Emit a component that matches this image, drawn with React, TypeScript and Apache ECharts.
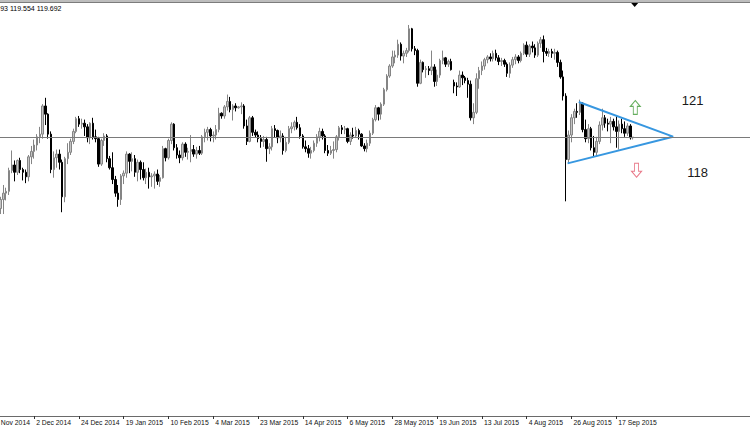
import React, { useEffect, useRef } from "react";
import * as echarts from "echarts";

// ---- Daily bars (USDJPY, 10 Nov 2014 .. 25 Sep 2015) ----
const opens = [
  114.55,114.85,115.75,115.50,115.75,116.25,116.60,116.70,117.85,118.15,
  117.75,118.40,117.90,117.75,117.50,118.60,118.90,119.25,119.70,119.85,
  121.40,120.95,119.85,117.90,118.55,118.75,118.30,116.40,118.50,118.85,
  119.45,120.00,120.70,120.40,120.45,120.25,119.65,120.45,119.70,119.60,
  118.20,119.50,119.75,118.50,118.00,117.35,116.60,116.25,117.55,117.70,
  118.75,118.35,118.50,117.75,118.30,117.90,117.45,117.75,117.50,117.55,
  117.65,117.25,117.45,119.05,118.55,119.50,120.40,119.10,118.70,118.55,
  119.30,118.85,118.90,119.00,118.75,118.95,118.80,119.70,119.95,120.10,
  119.75,119.80,120.10,121.00,120.85,121.35,121.65,121.20,121.40,121.30,
  121.35,121.40,120.30,119.45,120.75,119.95,119.80,119.60,119.45,119.55,
  119.05,119.15,120.15,120.05,119.65,119.75,118.95,119.40,120.15,120.25,
  120.50,120.20,119.75,119.15,119.05,118.80,118.95,119.35,119.70,120.00,
  119.75,118.95,118.80,118.95,119.00,119.70,120.20,120.10,120.15,119.45,
  119.80,119.75,120.05,119.85,119.20,119.05,119.35,119.90,120.65,121.30,
  120.95,121.50,122.30,123.05,123.60,124.10,124.20,124.80,124.15,124.30,
  124.45,125.65,124.55,124.45,122.65,123.80,123.40,123.45,123.35,123.55,
  122.75,123.10,123.90,124.05,123.70,123.85,122.70,122.50,122.45,123.10,
  122.95,122.80,122.60,120.75,121.05,122.90,123.35,123.60,123.95,124.10,
  124.00,124.30,124.05,123.85,123.90,123.70,123.20,123.65,123.95,124.10,
  123.90,124.30,124.75,124.25,124.70,124.60,124.20,124.85,125.05,124.40,
  124.30,124.40,124.30,124.35,123.80,123.00,121.95,118.45,119.80,120.75,
  121.10,121.05,121.55,120.10,119.60,120.15,119.10,118.85,119.45,120.35,
  120.75,120.45,120.40,120.55,120.25,120.00,120.40,120.15,119.90,120.30,
  119.65,
];
const highs = [
  115.10,115.85,115.90,116.10,116.40,117.05,116.90,118.00,118.95,118.40,
  118.45,118.55,118.00,117.90,118.70,119.20,119.55,119.85,120.25,121.50,
  121.85,121.00,120.00,118.90,119.00,119.00,118.45,118.60,119.35,119.60,
  120.15,120.80,120.85,120.70,120.65,120.40,120.50,120.75,120.10,119.70,
  119.60,119.90,119.85,118.65,118.85,117.55,117.05,117.65,117.85,118.90,
  118.80,118.85,118.70,118.45,118.40,118.30,117.95,118.00,117.70,117.80,
  117.90,117.60,119.20,119.10,119.60,120.50,120.45,119.30,118.95,119.40,
  119.40,119.10,119.80,119.25,119.15,119.20,119.80,120.15,120.25,120.20,
  120.00,120.35,121.30,121.05,121.45,122.03,121.90,121.50,121.55,121.40,
  121.60,121.50,120.65,120.85,120.85,120.10,120.00,119.80,119.75,119.70,
  119.35,120.30,120.35,120.10,120.05,119.90,119.70,120.30,120.50,120.60,
  120.80,120.40,119.85,119.50,119.25,119.15,119.50,119.85,120.20,120.15,
  119.85,119.25,119.20,119.45,119.80,120.30,120.35,120.30,120.20,119.95,
  120.20,120.25,120.15,119.90,119.35,119.55,120.05,120.75,121.45,121.35,
  121.60,122.40,123.15,123.70,124.45,124.45,125.05,124.90,124.45,124.60,
  125.86,125.70,124.70,124.55,123.95,123.85,123.60,123.60,124.45,123.70,
  123.40,124.00,124.45,124.10,123.95,124.00,122.85,122.70,123.35,123.30,
  123.05,122.95,122.80,121.55,123.20,123.55,123.85,124.05,124.20,124.30,
  124.45,124.50,124.20,124.05,124.00,123.80,123.80,124.10,124.25,124.20,
  124.40,124.85,124.95,124.80,124.95,124.80,124.95,125.20,125.28,124.60,
  124.55,124.55,124.55,124.45,123.95,123.35,122.10,120.05,120.95,121.25,
  121.55,121.75,121.60,120.65,120.40,120.25,119.75,119.70,120.55,121.25,
  120.90,120.70,120.80,120.70,120.90,120.60,120.70,120.55,120.45,120.40,
  119.693,
];
const lows = [
  114.40,114.75,115.05,115.40,115.45,115.45,116.20,116.50,117.70,117.25,
  117.60,117.70,117.30,117.15,117.25,118.20,118.50,118.95,119.35,119.60,
  120.35,119.60,117.70,117.45,118.00,117.90,115.55,116.10,118.20,118.70,
  119.30,119.90,120.25,120.15,119.75,119.40,119.30,119.55,119.40,118.05,
  118.10,119.20,118.30,117.90,117.10,116.40,115.85,115.95,117.10,117.45,
  117.70,117.80,117.50,117.25,117.35,117.30,117.10,116.85,116.95,116.85,
  117.05,116.95,117.40,118.35,118.45,119.30,118.95,118.50,118.25,118.40,
  118.60,118.45,118.30,118.60,118.50,118.70,118.70,119.40,119.50,119.45,
  119.40,119.55,119.95,120.70,120.70,121.15,121.05,120.60,121.10,121.25,
  120.95,120.15,119.25,119.40,119.75,119.65,119.40,119.10,119.15,118.33,
  118.75,118.95,119.65,119.35,119.40,118.72,118.85,119.30,119.90,120.05,
  120.10,119.60,119.05,118.85,118.55,118.50,118.85,119.15,119.45,119.55,
  118.80,118.65,118.70,118.50,118.85,119.50,119.85,119.85,119.35,119.25,
  119.60,119.65,119.55,119.15,118.90,118.85,119.20,119.80,120.55,120.60,
  120.65,121.40,122.20,122.95,123.50,123.75,124.05,123.90,123.75,124.10,
  124.35,124.40,124.20,122.46,122.60,123.25,122.95,123.10,123.10,122.46,
  122.50,122.95,123.70,123.55,123.55,123.35,122.10,121.95,122.40,122.55,
  122.65,121.85,120.60,120.40,120.95,122.35,123.10,123.40,123.75,123.85,
  123.85,123.90,123.65,123.60,123.55,123.00,122.95,123.50,123.70,123.75,
  123.80,124.20,124.10,124.10,124.35,124.05,124.10,124.60,123.80,124.15,
  124.10,124.05,123.95,123.55,122.90,121.70,116.15,118.25,119.40,120.40,
  120.75,120.90,119.95,119.40,119.35,118.95,118.60,118.60,119.30,120.05,
  120.20,120.00,119.35,120.05,119.10,119.00,119.90,119.70,119.75,119.55,
  119.554,
];
const closes = [
  114.85,115.75,115.50,115.75,116.25,116.60,116.70,117.85,118.15,117.75,
  118.40,117.90,117.75,117.50,118.60,118.90,119.25,119.70,119.85,121.40,
  120.95,119.85,117.90,118.55,118.75,118.30,116.40,118.50,118.85,119.45,
  120.00,120.70,120.40,120.45,120.25,119.65,120.45,119.70,119.60,118.20,
  119.50,119.75,118.50,118.00,117.35,116.60,116.25,117.55,117.70,118.75,
  118.35,118.50,117.75,118.30,117.90,117.45,117.75,117.50,117.55,117.65,
  117.25,117.45,119.05,118.55,119.50,120.40,119.10,118.70,118.55,119.30,
  118.85,118.90,119.00,118.75,118.95,118.80,119.70,119.95,120.10,119.75,
  119.80,120.10,121.00,120.85,121.35,121.65,121.20,121.40,121.30,121.35,
  121.40,120.30,119.45,120.75,119.95,119.80,119.60,119.45,119.55,119.05,
  119.15,120.15,120.05,119.65,119.75,118.95,119.40,120.15,120.25,120.50,
  120.20,119.75,119.15,119.05,118.80,118.95,119.35,119.70,120.00,119.75,
  118.95,118.80,118.95,119.00,119.70,120.20,120.10,120.15,119.45,119.80,
  119.75,120.05,119.85,119.20,119.05,119.35,119.90,120.65,121.30,120.95,
  121.50,122.30,123.05,123.60,124.10,124.20,124.80,124.15,124.30,124.45,
  125.65,124.55,124.45,122.65,123.80,123.40,123.45,123.35,123.55,122.75,
  123.10,123.90,124.05,123.70,123.85,123.40,122.50,122.45,123.10,122.95,
  122.80,122.60,120.75,121.05,122.90,123.35,123.60,123.95,124.10,124.00,
  124.30,124.05,123.85,123.90,123.70,123.20,123.65,123.95,124.10,123.90,
  124.30,124.75,124.25,124.70,124.60,124.20,124.85,125.05,124.40,124.30,
  124.40,124.30,124.35,123.80,123.00,121.95,118.45,119.80,120.75,121.10,
  121.05,121.55,120.10,119.60,120.15,119.10,118.85,119.45,120.35,120.75,
  120.45,120.40,120.55,120.25,120.00,120.40,120.15,119.90,120.30,119.65,
  119.692,
];

// ---- Time axis ----
const firstDate = "2014-11-10";
const skippedWeekdays = ["2014-12-25", "2015-01-01"];
const extraSundayBars = ["2015-03-08", "2015-03-15", "2015-03-22"];
const monthNames = ["Jan", "Feb", "Mar", "Apr", "May", "Jun", "Jul", "Aug", "Sep", "Oct", "Nov", "Dec"];
const labelEveryBars = 16;
const futureBars = 42; // chart shift (empty space to the right)

// ---- Drawn objects ----
const triangleBars = [210.6, 244.3, 206.6];
const trianglePrices = [121.62, 119.71, 118.24];
const arrowUpPoint = [230.8, 121.32];
const arrowDownPoint = [231.25, 117.86];
const levelTexts = ["121", "118"];

function buildDates(n: number): string[] {
  const out: string[] = [];
  const d = new Date(firstDate + "T00:00:00Z");
  while (out.length < n) {
    const iso = d.toISOString().slice(0, 10);
    const wd = d.getUTCDay();
    const trading = (wd >= 1 && wd <= 5 && !skippedWeekdays.includes(iso)) || extraSundayBars.includes(iso);
    if (trading) out.push(`${d.getUTCDate()} ${monthNames[d.getUTCMonth()]} ${d.getUTCFullYear()}`);
    d.setUTCDate(d.getUTCDate() + 1);
  }
  return out;
}

const STEP = 2.8; // pixels per bar
const SHIFT = 12.2; // the chart starts left of the window edge (first bars scrolled out)

export default function App() {
  const ref = useRef<HTMLDivElement>(null);
  const nBars = closes.length;
  const N = nBars + futureBars;
  const chartWidth = N * STEP;
  useEffect(() => {
    document.documentElement.style.overflow = "hidden";
    document.body.style.margin = "0";
    document.body.style.overflow = "hidden";
    if (!ref.current) return;
    const chart = echarts.init(ref.current, undefined, { renderer: "svg" });
    const dates = buildDates(nBars);
    const cats = dates.concat(Array.from({ length: futureBars }, (_, i) => `f${i}`));
    const candles = closes.map((c, i) => [opens[i], c, lows[i], highs[i]]);
    const lastBar = nBars - 1;
    const showLabel = (idx: number) => idx % labelEveryBars === 0 && idx <= lastBar;
    const header = `${highs[lastBar].toFixed(3).slice(-2)} ${lows[lastBar].toFixed(3)} ${closes[lastBar].toFixed(3)}`;
    const font = '"Liberation Sans", Arial, sans-serif';
    const px = (x: number) => x + SHIFT; // window x -> chart x

    const upPath = "path://M5,0 L10,6 L7,6 L7,14 L3,14 L3,6 L0,6 Z";
    const downPath = "path://M3,0 L7,0 L7,8 L10,8 L5,14 L0,8 L3,8 Z";

    chart.setOption({
      animation: false,
      backgroundColor: "#ffffff",
      grid: { left: 0, right: 0, top: 3, height: 413, containLabel: false },
      xAxis: [
        {
          type: "category",
          data: cats,
          boundaryGap: true,
          axisLine: { show: true, lineStyle: { color: "#6a6a6a", width: 1 } },
          axisTick: {
            show: true,
            alignWithLabel: true,
            interval: (i: number) => showLabel(i),
            length: 3,
            lineStyle: { color: "#333" },
          },
          axisLabel: {
            interval: (i: number) => showLabel(i),
            align: "left",
            fontSize: 6.8,
            fontFamily: font,
            color: "#111",
            margin: 3,
            padding: [0, 0, 0, 2],
          },
          splitLine: { show: false },
        },
        { type: "value", min: -0.5, max: N - 0.5, show: false },
      ],
      yAxis: { type: "value", min: 104.33, max: 127.07, show: false, splitLine: { show: false } },
      series: [
        {
          type: "candlestick",
          xAxisIndex: 0,
          data: candles,
          barWidth: 2,
          itemStyle: {
            color: "#c4c4c4",
            color0: "#000000",
            borderColor: "#858585",
            borderColor0: "#000000",
            borderWidth: 1,
          },
          markLine: {
            silent: true,
            symbol: ["none", "none"],
            label: { show: false },
            lineStyle: { color: "#7a7a7a", width: 1, type: "solid" },
            data: [{ yAxis: closes[lastBar] }],
          },
        },
        {
          type: "line",
          xAxisIndex: 1,
          data: triangleBars.map((b, i) => [b, trianglePrices[i]]),
          symbol: "none",
          lineStyle: { color: "#3797e0", width: 2 },
          silent: true,
        },
        {
          type: "scatter",
          xAxisIndex: 1,
          silent: true,
          data: [
            { value: arrowUpPoint, symbol: upPath, itemStyle: { color: "#ffffff", borderColor: "#3f9a36", borderWidth: 1 } },
            { value: arrowDownPoint, symbol: downPath, itemStyle: { color: "#ffffff", borderColor: "#e2566a", borderWidth: 1 } },
          ],
          symbolSize: [10, 14],
        },
      ],
      graphic: [
        { type: "rect", shape: { x: 0, y: 0, width: chartWidth, height: 2 }, style: { fill: "#bdbdbd" }, silent: true },
        { type: "line", shape: { x1: 0, y1: 2.5, x2: chartWidth, y2: 2.5 }, style: { stroke: "#7c7c7c", lineWidth: 1 }, silent: true },
        { type: "polygon", shape: { points: [[px(631), 3], [px(638), 3], [px(634.5), 7]] }, style: { fill: "#000" }, silent: true },
        {
          type: "text",
          x: px(0),
          y: 8.5,
          style: { text: header, fill: "#000", fontSize: 7, fontFamily: font, align: "left", verticalAlign: "middle" },
          silent: true,
        },
        {
          type: "text",
          x: px(692.5),
          y: 100.5,
          style: { text: levelTexts[0], fill: "#1a1a1a", fontSize: 13, fontFamily: font, align: "center", verticalAlign: "middle" },
          silent: true,
        },
        {
          type: "text",
          x: px(697.5),
          y: 172.5,
          style: { text: levelTexts[1], fill: "#1a1a1a", fontSize: 13, fontFamily: font, align: "center", verticalAlign: "middle" },
          silent: true,
        },
      ],
    });
    return () => chart.dispose();
  }, []);
  return (
    <div
      ref={ref}
      style={{ position: "absolute", left: -SHIFT, top: 0, width: chartWidth, height: 430 }}
    />
  );
}
